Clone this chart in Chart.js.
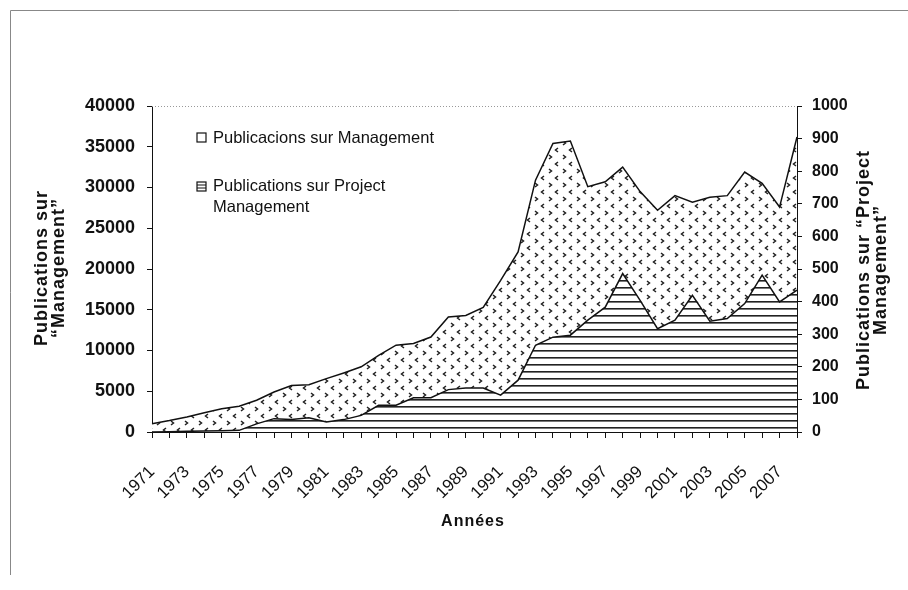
<!DOCTYPE html>
<html>
<head>
<meta charset="utf-8">
<script src="https://cdn.jsdelivr.net/npm/chart.js@4.4.1/dist/chart.umd.min.js"></script>
<style>
  body { margin: 0; background: #fff; }
  #wrap { width: 908px; height: 590px; }
</style>
</head>
<body>
<div id="wrap"><canvas id="pubs" width="908" height="590"></canvas></div>
<script>
const years = [1971, 1972, 1973, 1974, 1975, 1976, 1977, 1978, 1979, 1980,
    1981, 1982, 1983, 1984, 1985, 1986, 1987, 1988, 1989, 1990,
    1991, 1992, 1993, 1994, 1995, 1996, 1997, 1998, 1999, 2000,
    2001, 2002, 2003, 2004, 2005, 2006, 2007, 2008];

// left axis
const management = [1000, 1400, 1850, 2350, 2850, 3150, 3900, 4900, 5700, 5800,
    6550, 7250, 8000, 9400, 10650, 10850, 11650, 14100, 14300, 15300,
    18600, 22100, 30900, 35400, 35700, 30100, 30700, 32500, 29500, 27200,
    29000, 28200, 28800, 29000, 31900, 30500, 27600, 36200];

// right axis
const projectMgmt = [0, 1, 2, 3, 4, 5, 25, 41, 38, 44,
    31, 38, 51, 82, 82, 105, 105, 130, 135, 135,
    113, 159, 266, 291, 297, 343, 383, 486, 404, 317,
    343, 419, 340, 348, 394, 481, 399, 435];

const leftTitle = ['Publications sur', '\u201cManagement\u201d'];
const rightTitle = ['Publications sur \u201cProject', 'Management\u201d'];
const xTitle = 'Ann\u00e9es';
const legendLabels = ['Publicacions sur Management', 'Publications sur Project', 'Management'];

function dotPattern() {
    const c = document.createElement('canvas');
    c.width = 14; c.height = 14;
    const g = c.getContext('2d');
    g.fillStyle = '#fff';
    g.fillRect(0, 0, 14, 14);
    g.strokeStyle = '#222';
    g.lineWidth = 1.5;
    g.beginPath();
    g.moveTo(3, 1); g.lineTo(5.5, 3); g.lineTo(3, 5);
    g.moveTo(12, 8); g.lineTo(9.5, 10); g.lineTo(12, 12);
    g.stroke();
    return g.createPattern(c, 'repeat');
}

function linePattern() {
    const c = document.createElement('canvas');
    c.width = 4; c.height = 7;
    const g = c.getContext('2d');
    g.fillStyle = '#fff';
    g.fillRect(0, 0, 4, 7);
    g.fillStyle = '#222';
    g.fillRect(0, 0, 4, 1);
    g.fillStyle = '#777';
    g.fillRect(0, 1, 4, 1);
    return g.createPattern(c, 'repeat');
}

const ctx = document.getElementById('pubs').getContext('2d');

const extras = {
    id: 'extras',
    beforeDatasetsDraw(chart) {
        const a = chart.chartArea;
        const c = chart.ctx;
        c.save();
        c.strokeStyle = '#999';
        c.lineWidth = 1;
        c.setLineDash([1, 2]);
        c.beginPath();
        c.moveTo(a.left, a.top + 0.5);
        c.lineTo(a.right, a.top + 0.5);
        c.stroke();
        c.restore();
    },
    afterDraw(chart) {
        const c = chart.ctx;
        c.save();
        // frame
        c.strokeStyle = '#888';
        c.lineWidth = 1;
        c.beginPath();
        c.moveTo(10.5, 575);
        c.lineTo(10.5, 10.5);
        c.lineTo(908, 10.5);
        c.stroke();

        c.fillStyle = '#111';
        c.textAlign = 'center';
        c.textBaseline = 'middle';
        c.font = 'bold 18px "Liberation Sans", Arial, sans-serif';
        c.letterSpacing = '1px';
        // left title
        c.save();
        c.translate(42, 268);
        c.rotate(-Math.PI / 2);
        c.fillText(leftTitle[0], 0, 0);
        c.fillText(leftTitle[1], 0, 17);
        c.restore();
        // right title
        c.save();
        c.translate(864, 270);
        c.rotate(-Math.PI / 2);
        c.fillText(rightTitle[0], 0, 0);
        c.fillText(rightTitle[1], 0, 17);
        c.restore();
        // x title
        c.font = 'bold 16px "Liberation Sans", Arial, sans-serif';
        c.fillText(xTitle, 473, 522);

        // legend
        c.letterSpacing = '0px';
        c.textAlign = 'left';
        c.font = '16.5px "Liberation Sans", Arial, sans-serif';
        c.fillText(legendLabels[0], 213, 138);
        c.fillText(legendLabels[1], 213, 186);
        c.fillText(legendLabels[2], 213, 207);
        c.strokeStyle = '#111';
        c.lineWidth = 1.2;
        c.fillStyle = '#fff';
        c.fillRect(197, 133, 9, 9);
        c.strokeRect(197, 133, 9, 9);
        c.fillRect(197, 182, 9, 9);
        c.strokeRect(197, 182, 9, 9);
        c.beginPath();
        c.moveTo(197, 185); c.lineTo(206, 185);
        c.moveTo(197, 188); c.lineTo(206, 188);
        c.stroke();
        c.restore();
    }
};

const tickFont = { family: '"Liberation Sans", Arial, sans-serif', weight: 'bold' };

new Chart(ctx, {
    type: 'line',
    data: {
        labels: years,
        datasets: [
            {
                label: legendLabels[0],
                data: management,
                yAxisID: 'y',
                order: 2,
                fill: 'origin',
                backgroundColor: dotPattern(),
                borderColor: '#111',
                borderWidth: 1.5,
                pointRadius: 0,
                tension: 0
            },
            {
                label: legendLabels[1] + ' ' + legendLabels[2],
                data: projectMgmt,
                yAxisID: 'y1',
                order: 1,
                fill: 'origin',
                backgroundColor: linePattern(),
                borderColor: '#111',
                borderWidth: 1.5,
                pointRadius: 0,
                tension: 0
            }
        ]
    },
    options: {
        responsive: false,
        animation: false,
        layout: { padding: { top: 106, left: 0, right: 0, bottom: 0 } },
        plugins: {
            legend: { display: false },
            tooltip: { enabled: false }
        },
        scales: {
            x: {
                type: 'category',
                offset: false,
                border: { color: '#111', width: 1 },
                grid: { drawOnChartArea: false, color: '#111', tickLength: 6 },
                ticks: {
                    autoSkip: false,
                    minRotation: 45,
                    maxRotation: 45,
                    padding: 24,
                    color: '#111',
                    font: { family: '"Liberation Sans", Arial, sans-serif', size: 17 },
                    callback: (v, i) => (i % 2 === 0 ? String(years[i]) : '')
                },
                afterFit(s) { s.height = 158; }
            },
            y: {
                position: 'left',
                min: 0,
                max: 40000,
                border: { color: '#111', width: 1 },
                grid: { drawOnChartArea: false, color: '#111', tickLength: 5 },
                ticks: {
                    stepSize: 5000,
                    padding: 12,
                    color: '#111',
                    font: Object.assign({ size: 18 }, tickFont),
                    callback: (v) => String(v)
                },
                afterFit(s) { s.width = 152; }
            },
            y1: {
                position: 'right',
                min: 0,
                max: 1000,
                border: { color: '#111', width: 1 },
                grid: { drawOnChartArea: false, color: '#111', tickLength: 5 },
                ticks: {
                    stepSize: 100,
                    padding: 10,
                    color: '#111',
                    font: Object.assign({ size: 16 }, tickFont),
                    callback: (v) => String(v)
                },
                afterFit(s) { s.width = 111; }
            }
        }
    },
    plugins: [extras]
});
</script>
</body>
</html>
